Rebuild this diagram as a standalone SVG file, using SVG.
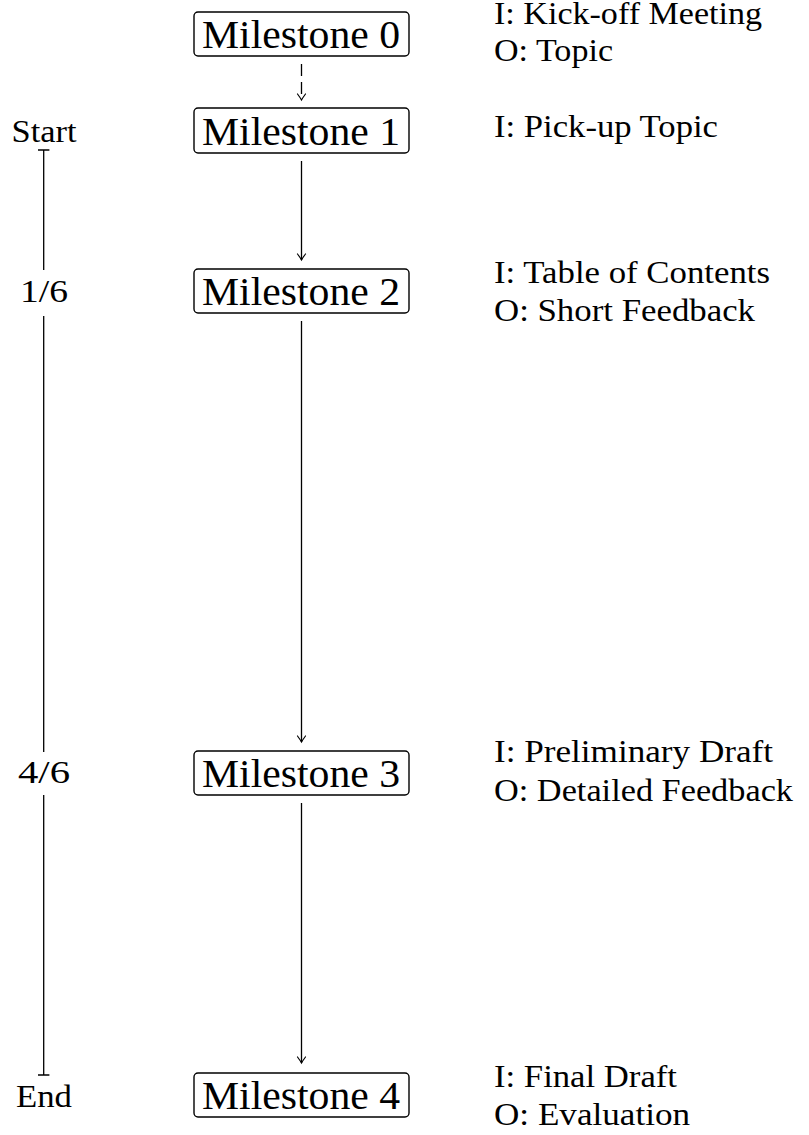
<svg xmlns="http://www.w3.org/2000/svg" width="809" height="1135" viewBox="0 0 809 1135">
<style>
.box{fill:#fff;stroke:#000;stroke-width:1.4}
.ms{font-family:"Liberation Serif",serif;font-size:39px;fill:#000}
.lbl{font-family:"Liberation Serif",serif;font-size:32px;fill:#000}
.tl{font-family:"Liberation Serif",serif;font-size:32px;fill:#000;text-anchor:middle}
.edge{fill:none;stroke:#000;stroke-width:1.3}
.axis{fill:none;stroke:#000;stroke-width:1.3}
</style>
<defs>
<marker id="arr" markerUnits="userSpaceOnUse" markerWidth="14" markerHeight="14" viewBox="-7 -7 14 14" refX="0" refY="0" orient="auto" overflow="visible">
<path d="M -6,-4 Q -1.8,-0.9 0,0 Q -1.8,0.9 -6,4" fill="none" stroke="#000" stroke-width="1.2" stroke-linecap="round"/>
</marker>
</defs>
<g id="timeline">
<path class="axis" d="M43.7,150 V270 M38,150 H49.4 M43.7,316 V752 M43.7,795 V1075 M38,1075 H49.4"/>
<text class="tl" x="44" y="142" textLength="65" lengthAdjust="spacingAndGlyphs">Start</text>
<text class="tl" x="44" y="302" textLength="48" lengthAdjust="spacingAndGlyphs">1/6</text>
<text class="tl" x="44" y="783" textLength="52" lengthAdjust="spacingAndGlyphs">4/6</text>
<text class="tl" x="44" y="1107" textLength="56" lengthAdjust="spacingAndGlyphs">End</text>
</g>
<g id="connectors">
<line class="edge" x1="301.5" y1="64" x2="301.5" y2="100" stroke-dasharray="12 6" marker-end="url(#arr)"/>
<line class="edge" x1="301.5" y1="161" x2="301.5" y2="260" marker-end="url(#arr)"/>
<line class="edge" x1="301.5" y1="321" x2="301.5" y2="742" marker-end="url(#arr)"/>
<line class="edge" x1="301.5" y1="803" x2="301.5" y2="1063" marker-end="url(#arr)"/>
</g>
<g id="m0">
<rect class="box" x="194" y="12" width="215" height="44" rx="4"/>
<text class="ms" x="202" y="48" textLength="198" lengthAdjust="spacingAndGlyphs">Milestone 0</text>
<text class="lbl" x="494" y="24" textLength="268" lengthAdjust="spacingAndGlyphs">I: Kick-off Meeting</text>
<text class="lbl" x="494" y="61" textLength="119" lengthAdjust="spacingAndGlyphs">O: Topic</text>
</g>
<g id="m1">
<rect class="box" x="194" y="108" width="215" height="45" rx="4"/>
<text class="ms" x="202" y="145" textLength="198" lengthAdjust="spacingAndGlyphs">Milestone 1</text>
<text class="lbl" x="494" y="137" textLength="224" lengthAdjust="spacingAndGlyphs">I: Pick-up Topic</text>
</g>
<g id="m2">
<rect class="box" x="194" y="269" width="215" height="44" rx="4"/>
<text class="ms" x="202" y="305" textLength="198" lengthAdjust="spacingAndGlyphs">Milestone 2</text>
<text class="lbl" x="494" y="283" textLength="276" lengthAdjust="spacingAndGlyphs">I: Table of Contents</text>
<text class="lbl" x="494" y="321" textLength="261" lengthAdjust="spacingAndGlyphs">O: Short Feedback</text>
</g>
<g id="m3">
<rect class="box" x="194" y="751" width="215" height="44" rx="4"/>
<text class="ms" x="202" y="787" textLength="198" lengthAdjust="spacingAndGlyphs">Milestone 3</text>
<text class="lbl" x="494" y="762" textLength="279" lengthAdjust="spacingAndGlyphs">I: Preliminary Draft</text>
<text class="lbl" x="494" y="801" textLength="299" lengthAdjust="spacingAndGlyphs">O: Detailed Feedback</text>
</g>
<g id="m4">
<rect class="box" x="194" y="1073" width="215" height="44" rx="4"/>
<text class="ms" x="202" y="1109" textLength="198" lengthAdjust="spacingAndGlyphs">Milestone 4</text>
<text class="lbl" x="494" y="1087" textLength="183" lengthAdjust="spacingAndGlyphs">I: Final Draft</text>
<text class="lbl" x="494" y="1125" textLength="196" lengthAdjust="spacingAndGlyphs">O: Evaluation</text>
</g>
</svg>
